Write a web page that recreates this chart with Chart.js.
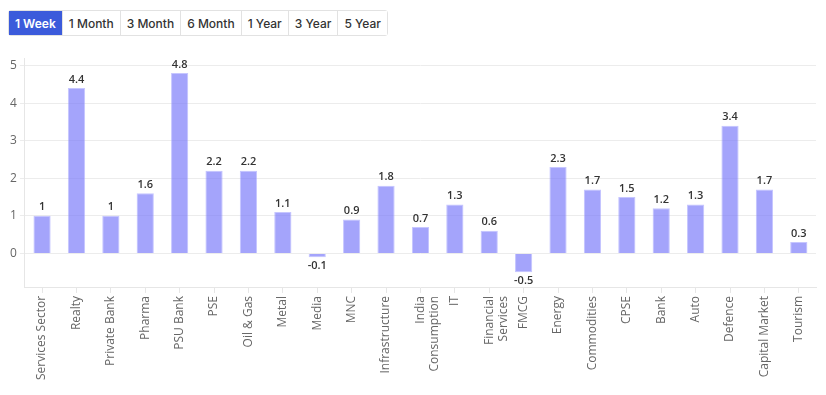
<!DOCTYPE html>
<html>
<head>
<meta charset="utf-8">
<script src="https://cdn.jsdelivr.net/npm/chart.js@4"></script>
<style>
    body { margin: 0; background: #fff; font-family: 'Open Sans', sans-serif; }
    .periods { position: absolute; left: 8px; top: 10px; display: flex; border: 1px solid #e2e2e2; border-radius: 3px; }
    .periods button {
        font-family: 'Inter', sans-serif; font-size: 12px; font-weight: 500; color: #333;
        background: #fff; border: none; border-left: 1px solid #e2e2e2; height: 24px; padding: 0 6px; margin: 0;
    }
    .periods button:first-child { border-left: none; }
    .periods button.active { background: #3b5bdb; color: #fff; font-weight: 600; }
    .chart-wrap { position: absolute; left: 0; top: 40px; width: 826px; height: 355px; }
</style>
</head>
<body>
<div class="periods">
    <button class="active">1 Week</button>
    <button>1 Month</button>
    <button>3 Month</button>
    <button>6 Month</button>
    <button>1 Year</button>
    <button>3 Year</button>
    <button>5 Year</button>
</div>
<div class="chart-wrap"><canvas id="sectorChart"></canvas></div>
<script>
// sector returns for the selected period
const sectors = ['Services Sector', 'Realty', 'Private Bank', 'Pharma', 'PSU Bank', 'PSE', 'Oil & Gas', 'Metal', 'Media', 'MNC',
    'Infrastructure', ['India', 'Consumption'], 'IT', ['Financial', 'Services'], 'FMCG', 'Energy', 'Commodities', 'CPSE',
    'Bank', 'Auto', 'Defence', 'Capital Market', 'Tourism'];
const returns = [1, 4.4, 1, 1.6, 4.8, 2.2, 2.2, 1.1, -0.1, 0.9, 1.8, 0.7, 1.3, 0.6, -0.5, 2.3, 1.7, 1.5, 1.2, 1.3, 3.4, 1.7, 0.3];
const yTicks = [0, 1, 2, 3, 4, 5];

// value labels above (or below, for negatives) each bar
const valueLabels = {
    id: 'valueLabels',
    afterDatasetsDraw(chart) {
        const ctx = chart.ctx;
        const meta = chart.getDatasetMeta(0);
        ctx.save();
        ctx.font = '600 11px "Open Sans", sans-serif';
        ctx.fillStyle = '#333';
        ctx.textAlign = 'center';
        meta.data.forEach((bar, i) => {
            const v = returns[i];
            if (v >= 0) {
                ctx.textBaseline = 'bottom';
                ctx.fillText(String(v), bar.x, bar.y - 3);
            } else {
                ctx.textBaseline = 'top';
                ctx.fillText(String(v), bar.x, bar.y + 3);
            }
        });
        ctx.restore();
    }
};

new Chart(document.getElementById('sectorChart'), {
    type: 'bar',
    data: {
        labels: sectors,
        datasets: [{
            data: returns,
            backgroundColor: 'rgba(125, 125, 250, 0.7)',
            borderColor: 'rgba(160, 160, 255, 0.6)',
            borderWidth: 1,
            barPercentage: 0.5,
            categoryPercentage: 1
        }]
    },
    options: {
        responsive: true,
        maintainAspectRatio: false,
        animation: false,
        layout: { padding: { left: 7, right: 10, top: 18, bottom: 12 } },
        plugins: { legend: { display: false }, tooltip: { enabled: false } },
        scales: {
            x: {
                grid: { display: true, drawOnChartArea: false, offset: false, color: '#e6e6e6', tickLength: 5 },
                border: { color: '#e6e6e6' },
                ticks: { color: '#666', font: { family: 'Open Sans', size: 12 }, minRotation: 90, maxRotation: 90, autoSkip: false }
            },
            y: {
                min: -0.92,
                max: 5.2,
                afterBuildTicks: axis => { axis.ticks = yTicks.map(v => ({ value: v })); },
                grid: { color: '#ececec', tickLength: 5 },
                border: { color: '#e6e6e6' },
                ticks: { color: '#666', font: { family: 'Open Sans', size: 12 }, padding: 3 }
            }
        }
    },
    plugins: [valueLabels]
});
</script>
</body>
</html>
